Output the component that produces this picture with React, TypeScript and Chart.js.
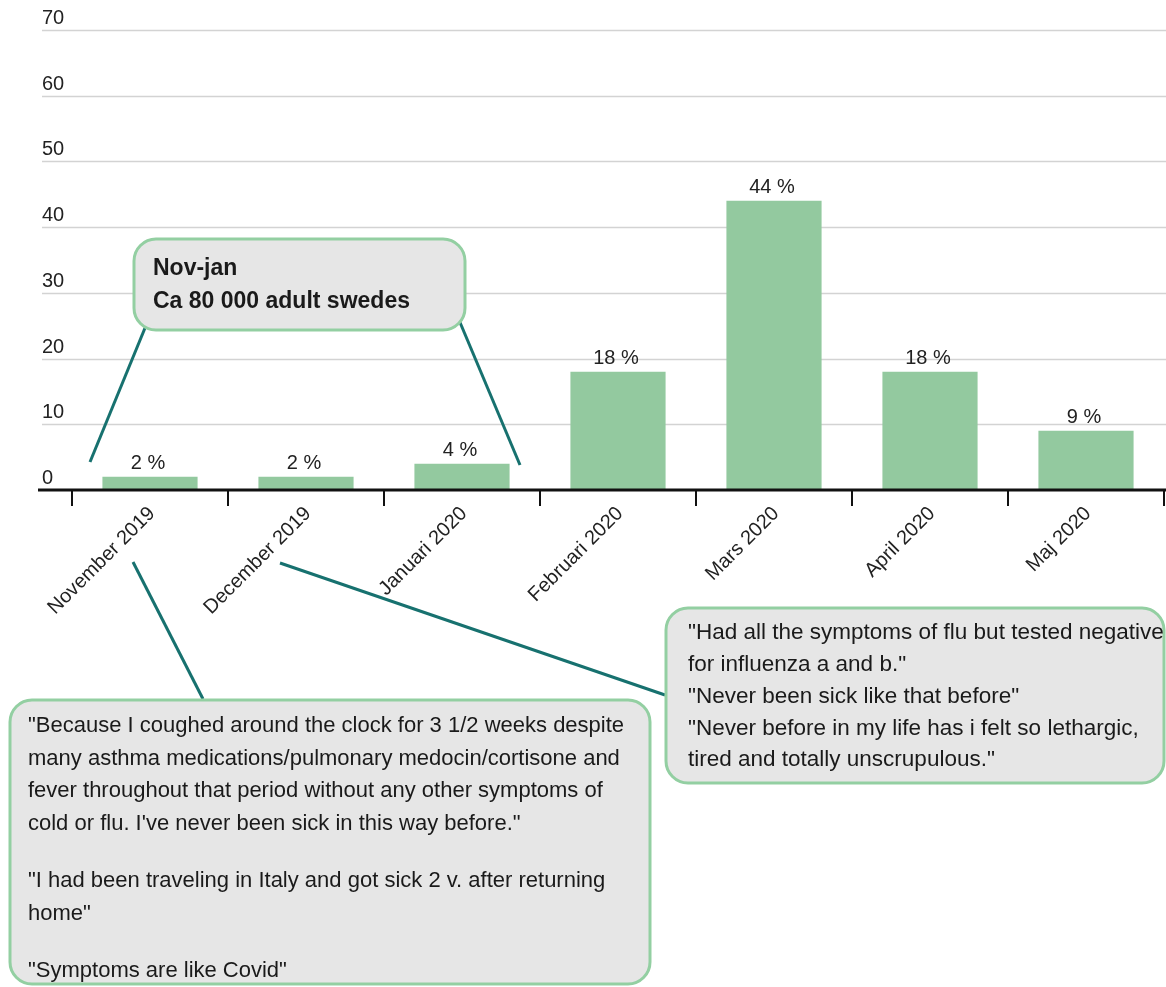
import { useEffect, useRef } from 'react';
import { Chart, registerables } from 'chart.js';

Chart.register(...registerables);

const categories = ['November 2019', 'December 2019', 'Januari 2020', 'Februari 2020', 'Mars 2020', 'April 2020', 'Maj 2020'];
const shares = [2, 2, 4, 18, 44, 18, 9];
const yTicks = [0, 10, 20, 30, 40, 50, 60, 70];

const boxNovJan = ['Nov-jan', 'Ca 80 000 adult swedes'];
const quotesNov = [
  '"Because I coughed around the clock for 3 1/2 weeks despite',
  'many asthma medications/pulmonary medocin/cortisone and',
  'fever throughout that period without any other symptoms of',
  'cold or flu. I\'ve never been sick in this way before."',
  '',
  '"I had been traveling in Italy and got sick 2 v. after returning',
  'home"',
  '',
  '"Symptoms are like Covid"',
];
const quotesDec = [
  '"Had all the symptoms of flu but tested negative',
  'for influenza a and b."',
  '"Never been sick like that before"',
  '"Never before in my life has i felt so lethargic,',
  'tired and totally unscrupulous."',
];

const FONT = '"Liberation Sans", Arial, Helvetica, sans-serif';
const W = 1166;
const H = 987;

function drawBox(ctx: CanvasRenderingContext2D, x: number, y: number, w: number, h: number, r: number) {
  ctx.save();
  ctx.beginPath();
  ctx.roundRect(x, y, w, h, r);
  ctx.fillStyle = '#e6e6e6';
  ctx.fill();
  ctx.lineWidth = 3;
  ctx.strokeStyle = '#93cfa2';
  ctx.stroke();
  ctx.restore();
}

function drawLine(ctx: CanvasRenderingContext2D, x1: number, y1: number, x2: number, y2: number) {
  ctx.save();
  ctx.beginPath();
  ctx.moveTo(x1, y1);
  ctx.lineTo(x2, y2);
  ctx.lineWidth = 3;
  ctx.strokeStyle = '#17716f';
  ctx.stroke();
  ctx.restore();
}

const decorPlugin = {
  id: 'decor',
  beforeDatasetsDraw(chart: any) {
    const ctx: CanvasRenderingContext2D = chart.ctx;
    const y = chart.scales.y;
    ctx.save();
    yTicks.forEach((v) => {
      const py = Math.round(y.getPixelForValue(v)) + 0.5;
      if (v > 0) {
        ctx.beginPath();
        ctx.moveTo(42, py);
        ctx.lineTo(W, py);
        ctx.lineWidth = 1.5;
        ctx.strokeStyle = '#d3d3d3';
        ctx.stroke();
      }
      ctx.fillStyle = '#222';
      ctx.font = `20px ${FONT}`;
      ctx.textAlign = 'left';
      ctx.textBaseline = 'alphabetic';
      ctx.fillText(String(v), 42, py - 7);
    });
    ctx.restore();
  },
  afterDatasetsDraw(chart: any) {
    const ctx: CanvasRenderingContext2D = chart.ctx;
    const y = chart.scales.y;
    const meta = chart.getDatasetMeta(0);
    ctx.save();
    ctx.fillStyle = '#222';
    ctx.font = `20px ${FONT}`;
    ctx.textAlign = 'center';
    ctx.textBaseline = 'bottom';
    meta.data.forEach((bar: any, i: number) => {
      ctx.fillText(`${shares[i]} %`, bar.x - 2, bar.y - 3);
    });
    const p0 = y.getPixelForValue(0);
    ctx.beginPath();
    ctx.moveTo(38, p0);
    ctx.lineTo(W, p0);
    ctx.lineWidth = 3;
    ctx.strokeStyle = '#111';
    ctx.stroke();
    ctx.restore();
  },
  afterDraw(chart: any) {
    const ctx: CanvasRenderingContext2D = chart.ctx;
    drawLine(ctx, 145, 328, 90, 462);
    drawLine(ctx, 459, 320, 520, 465);
    drawLine(ctx, 133, 562, 203, 699);
    drawLine(ctx, 280, 563, 665, 695);

    drawBox(ctx, 134, 239, 331, 91, 22);
    drawBox(ctx, 10, 700, 640, 284, 22);
    drawBox(ctx, 666, 608, 498, 175, 22);

    ctx.save();
    ctx.fillStyle = '#1a1a1a';
    ctx.textAlign = 'left';
    ctx.textBaseline = 'middle';
    ctx.font = `bold 23px ${FONT}`;
    ctx.fillText(boxNovJan[0], 153, 269);
    ctx.fillText(boxNovJan[1], 153, 302);

    ctx.font = `22px ${FONT}`;
    let ty = 726;
    quotesNov.forEach((line) => {
      if (line === '') {
        ty += 25;
        return;
      }
      ctx.fillText(line, 28, ty);
      ty += 32.5;
    });
    ctx.font = `22.5px ${FONT}`;
    quotesDec.forEach((line, i) => {
      ctx.fillText(line, 688, 633 + i * 31.8);
    });
    ctx.restore();
  },
};

export default function App() {
  const ref = useRef<HTMLCanvasElement | null>(null);
  useEffect(() => {
    if (!ref.current) return;
    const chart = new Chart(ref.current, {
      type: 'bar',
      data: {
        labels: categories,
        datasets: [
          {
            data: shares,
            backgroundColor: '#93c99f',
            borderWidth: 0,
            barPercentage: 0.61,
            categoryPercentage: 1,
          },
        ],
      },
      options: {
        animation: false,
        responsive: false,
        maintainAspectRatio: false,
        layout: { padding: { left: 72, right: 2, top: 30, bottom: 0 } },
        plugins: {
          legend: { display: false },
          tooltip: { enabled: false },
          title: { display: false },
        },
        scales: {
          x: {
            offset: true,
            grid: {
              display: true,
              offset: true,
              drawOnChartArea: false,
              drawTicks: true,
              tickLength: 16,
              color: '#111',
              lineWidth: 2,
            },
            border: { display: false },
            ticks: {
              font: { family: FONT, size: 20 },
              color: '#222',
              minRotation: 45,
              maxRotation: 45,
              autoSkip: false,
              padding: -4,
              labelOffset: 2,
            },
            afterFit: (s: any) => {
              s.height = H - 490;
            },
          },
          y: { display: false, min: 0, max: 70 },
        },
      },
      plugins: [decorPlugin],
    } as any);
    return () => chart.destroy();
  }, []);
  return (
    <canvas
      ref={ref}
      width={W}
      height={H}
      style={{ position: 'fixed', left: 0, top: 0, width: W, height: H, background: '#fff' }}
    />
  );
}
